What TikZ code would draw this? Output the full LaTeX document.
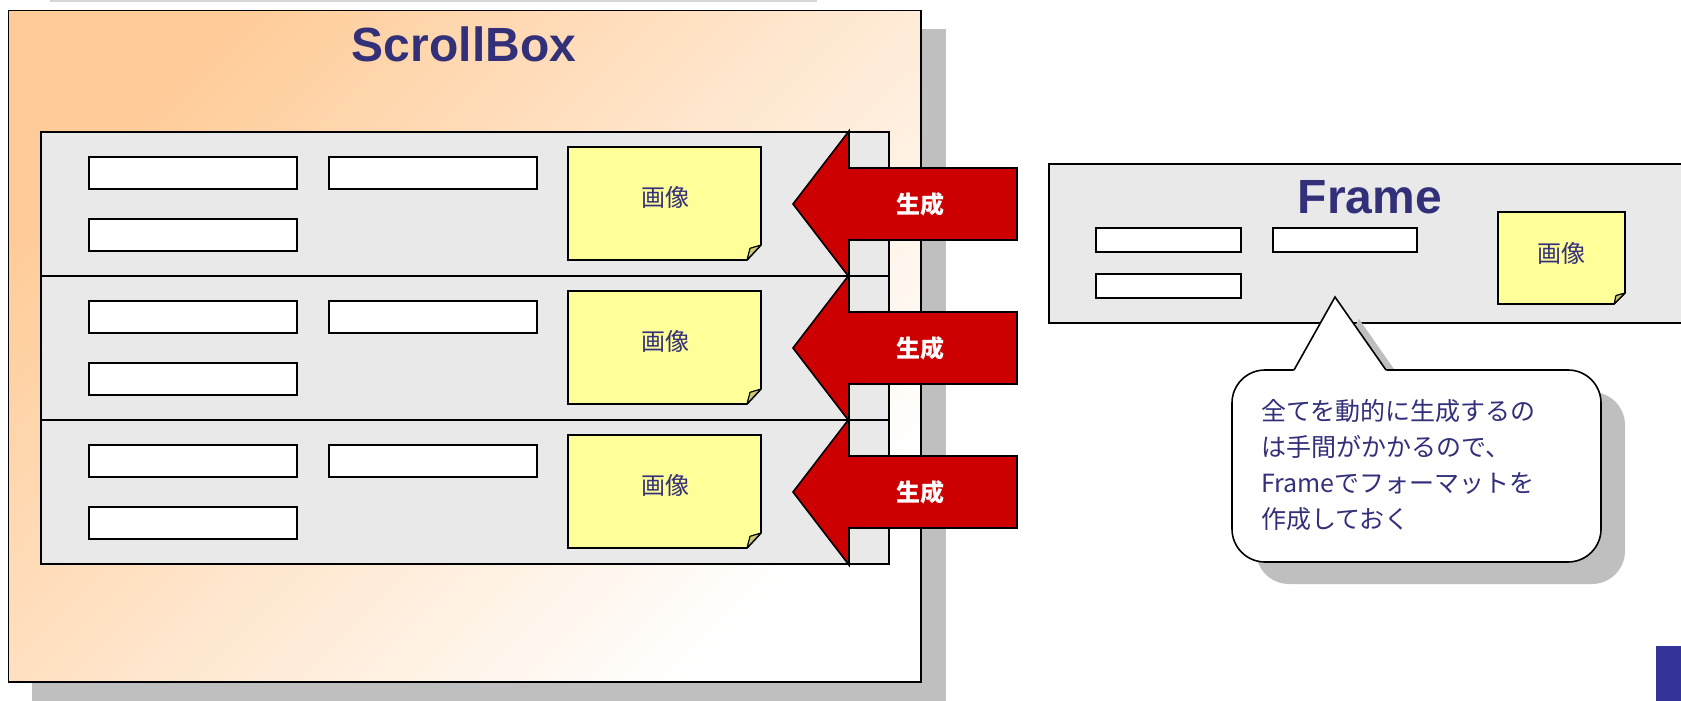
\documentclass[tikz,border=0pt]{standalone}
\usepackage{fontspec}
\setmainfont{Liberation Sans}
\newfontfamily\jp{Noto Sans CJK JP}
\definecolor{peach}{HTML}{FFCC99}
\definecolor{rowgray}{HTML}{E9E9E9}
\definecolor{noteyellow}{HTML}{FFFF99}
\definecolor{foldcol}{HTML}{CCCC77}
\definecolor{shadowgray}{HTML}{BFBFBF}
\definecolor{toplinegray}{HTML}{D6D6D6}
\definecolor{txtblue}{HTML}{33307A}
\definecolor{redfill}{HTML}{CC0000}
\definecolor{bluesq}{HTML}{333399}
\tikzset{
  bd/.style={draw=black, line width=1.6pt, line join=miter},
  field/.style={bd, fill=white},
  rowbox/.style={bd, fill=rowgray},
  notebox/.style={bd, fill=noteyellow},
  foldbox/.style={draw=black, line width=1.2pt, fill=foldcol, line join=round},
  shadowc/.style={fill=shadowgray},
  redarrow/.style={bd, fill=redfill},
  titletext/.style={font=\bfseries\fontsize{48}{56}\selectfont, text=txtblue, inner sep=0pt},
  jplabel/.style={font=\jp\fontsize{24}{30}\selectfont, text=txtblue, inner sep=0pt},
  gentext/.style={font=\jp\bfseries\fontsize{24}{30}\selectfont, text=white, inner sep=0pt},
  bubtext/.style={font=\jp\fontsize{25}{30}\selectfont, text=txtblue, inner sep=0pt, anchor=base west},
}
\begin{document}
\begin{tikzpicture}[x=1pt,y=-1pt]
\useasboundingbox (0,0) rectangle (1681,701);
\clip (0,0) rectangle (1681,701);
% faint line at top
\fill[toplinegray] (50,0) rectangle (817,2.5);
% ScrollBox
\fill[shadowc] (32,29) rectangle (946,710);
\shade[top color=peach, bottom color=white, shading angle=45] (8.6,10.7) rectangle (921,682);
\draw[bd] (8.6,10.7) rectangle (921,682);
\node[titletext] (sbtitle) at (464,44.5) {ScrollBox};
% rows
\foreach \t [count=\i] in {132,276,420}{
  \draw[rowbox] (40.7,\t) rectangle (889,\t+144);
  \draw[field] (89,\t+25) rectangle (297,\t+57);
  \draw[field] (329,\t+25) rectangle (537,\t+57);
  \draw[field] (89,\t+87) rectangle (297,\t+119);
  \draw[notebox] (568,\t+15) -- (761,\t+15) -- (761,\t+113) -- (747,\t+128) -- (568,\t+128) -- cycle;
  \draw[foldbox] (747,\t+128) -- (750,\t+116.3) -- (761,\t+113) -- cycle;
  \node[jplabel] (img\i) at (665,\t+65) {画像};
}
% arrows
\foreach \t [count=\i] in {132,276,420}{
  \draw[redarrow] (793,\t+72) -- (849,\t-1) -- (849,\t+36) -- (1017,\t+36) -- (1017,\t+108) -- (849,\t+108) -- (849,\t+145) -- cycle;
  \node[gentext] (gen\i) at (920,\t+72.5) {生成};
}
% Frame
\draw[rowbox] (1049,164) rectangle (1700,323);
\node[titletext] (frtitle) at (1370,197.5) {Frame};
\draw[field] (1096,228) rectangle (1241,252);
\draw[field] (1273,228) rectangle (1417,252);
\draw[field] (1096,274) rectangle (1241,298);
\draw[notebox] (1498,212) -- (1625,212) -- (1625,293) -- (1614,304) -- (1498,304) -- cycle;
\draw[foldbox] (1614,304) -- (1616,295.5) -- (1625,293) -- cycle;
\node[jplabel] (frimg) at (1561,253) {画像};
% speech bubble
\fill[shadowc, rounded corners=33pt] (1256,392) rectangle (1625,584);
\fill[shadowc] (1318,392) -- (1359,319) -- (1410,392) -- cycle;
\draw[bd, fill=white, rounded corners=33pt] (1232,370) rectangle (1601,562);
\fill[white] (1293.2,371.5) -- (1335,297) -- (1386.9,371.5) -- cycle;
\draw[bd] (1294,370) -- (1335,297) -- (1386,370);
\node[bubtext] (l1) at (1261,420) {全てを動的に生成するの};
\node[bubtext] (l2) at (1261,456.5) {は手間がかかるので、};
\node[bubtext] (l3) at (1261,492.5) {Frameでフォーマットを};
\node[bubtext] (l4) at (1261,528.5) {作成しておく};
% blue square
\fill[bluesq] (1656,646) rectangle (1690,710);
\end{tikzpicture}
\end{document}
